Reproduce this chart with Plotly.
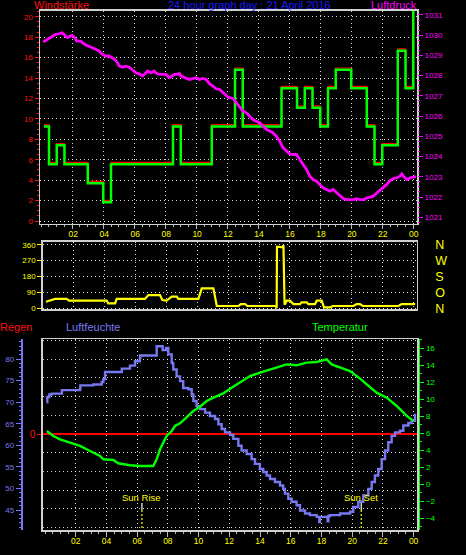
import plotly.graph_objects as go

# ---------------- DATA ----------------
# wind speed (km/h), half-hour samples, step plot
wind_time = [0.17, 0.5, 1.0, 1.5, 3.0, 4.0, 4.5, 8.5, 9.0, 11.0, 12.5, 13.0, 15.5, 16.5,
             17.0, 17.5, 18.0, 18.5, 19.0, 20.0, 21.0, 21.5, 22.0, 23.0, 23.5, 24.0]
wind_gust = [9.26, 5.56, 7.41, 5.56, 3.70, 1.85, 5.56, 9.26, 5.56, 9.26, 14.8, 9.26, 13.0, 11.1,
             13.0, 11.1, 9.26, 13.0, 14.8, 13.0, 9.26, 5.56, 7.41, 16.67, 13.0, 22.2]
wind_avg = [9.26, 5.56, 7.41, 5.56, 3.70, 1.85, 5.56, 9.26, 5.56, 9.26, 14.8, 9.26, 13.0, 11.1,
            13.0, 11.1, 9.26, 13.0, 14.8, 13.0, 9.26, 5.56, 7.41, 16.67, 13.0, 22.2]

# air pressure (hPa)
press_time = [0.13, 0.39, 0.71, 0.93, 1.14, 1.36, 1.57, 1.68, 1.90, 2.00, 2.16, 2.29, 2.55, 2.65,
              2.87, 3.08, 3.30, 3.51, 3.73, 3.95, 4.16, 4.38, 4.60, 4.75, 4.92, 5.03, 5.24, 5.46,
              5.67, 5.89, 6.11, 6.32, 6.54, 6.75, 6.86, 7.08, 7.29, 7.40, 7.62, 7.83, 8.05, 8.26,
              8.48, 8.59, 8.80, 8.91, 9.02, 9.23, 9.55, 9.77, 9.99, 10.20, 10.42, 10.64, 10.85,
              11.07, 11.28, 11.50, 11.72, 11.93, 12.04, 12.36, 12.58, 12.79, 13.01, 13.23, 13.44,
              13.66, 13.87, 14.09, 14.31, 14.52, 14.73, 14.95, 15.17, 15.38, 15.60, 15.81, 16.03,
              16.25, 16.46, 16.68, 16.89, 17.11, 17.32, 17.54, 17.76, 17.97, 18.19, 18.40, 18.62,
              18.83, 19.05, 19.26, 19.48, 19.70, 19.91, 20.13, 20.34, 20.56, 20.78, 20.99, 21.21,
              21.42, 21.64, 21.85, 22.07, 22.28, 22.50, 22.72, 22.93, 23.15, 23.26, 23.36, 23.58,
              23.80, 24.01, 24.17]
pressure = [1029.66, 1029.79, 1029.91, 1030.04, 1030.07, 1030.12, 1029.96, 1029.88, 1029.96,
            1029.99, 1029.88, 1029.71, 1029.71, 1029.63, 1029.51, 1029.46, 1029.38, 1029.30,
            1029.22, 1029.05, 1028.97, 1028.97, 1028.89, 1028.80, 1028.64, 1028.47, 1028.42,
            1028.47, 1028.42, 1028.26, 1028.14, 1028.09, 1027.98, 1028.14, 1028.23, 1028.14,
            1028.23, 1028.13, 1028.06, 1028.06, 1028.06, 1027.90, 1027.98, 1028.06, 1028.06,
            1028.11, 1027.98, 1027.90, 1027.81, 1027.85, 1027.90, 1027.81, 1027.86, 1027.81,
            1027.60, 1027.48, 1027.35, 1027.32, 1027.15, 1026.99, 1026.94, 1026.87, 1026.66,
            1026.41, 1026.25, 1026.16, 1026.00, 1025.83, 1025.75, 1025.67, 1025.50, 1025.34,
            1025.26, 1025.17, 1025.01, 1024.76, 1024.43, 1024.27, 1024.13, 1024.10, 1024.10,
            1023.85, 1023.60, 1023.36, 1023.03, 1022.86, 1022.78, 1022.61, 1022.45, 1022.37,
            1022.29, 1022.37, 1022.20, 1022.04, 1021.92, 1021.87, 1021.87, 1021.87, 1021.92,
            1021.87, 1021.87, 1021.95, 1021.99, 1022.04, 1022.20, 1022.32, 1022.45, 1022.61,
            1022.81, 1022.91, 1022.95, 1023.03, 1023.14, 1023.03, 1022.86, 1022.95, 1022.98,
            1023.01]

# wind direction (degrees)
dir_time = [0.23, 0.49, 0.82, 1.57, 1.72, 4.15, 4.26, 4.70, 4.80, 6.63, 6.85, 7.60, 7.75, 8.03,
            8.36, 8.68, 8.79, 10.08, 10.30, 11.05, 11.27, 12.67, 12.82, 13.10, 13.25, 15.10,
            15.14, 15.16, 15.53, 15.58, 15.65, 15.79, 16.00, 16.22, 16.65, 16.76, 17.08, 17.19,
            17.62, 17.73, 18.05, 18.20, 18.59, 18.76, 20.10, 20.31, 20.53, 20.70, 23.00, 23.22,
            24.09]
wind_dir = [37, 43, 53, 53, 43, 43, 28, 28, 53, 53, 75, 75, 47, 43, 66, 66, 53, 53, 113, 113,
            13, 13, 24, 24, 13, 13, 0, 349, 345, 357, 20, 43, 43, 24, 24, 34, 34, 24, 24, 43, 43,
            5, 5, 13, 13, 24, 24, 13, 13, 24, 24]
dir_ticks = [0, 90, 180, 270, 360]
dir_letters = ["N", "O", "S", "W", "N"]

# humidity (%)
hum_time = [0.11, 0.15, 0.28, 0.43, 1.09, 1.10, 2.28, 2.30, 3.15, 3.69, 3.80, 3.91, 4.67, 5.00,
            5.53, 5.86, 6.18, 6.20, 7.16, 7.27, 7.60, 7.66, 7.88, 8.03, 8.25, 8.35, 8.57, 8.79,
            9.00, 9.33, 9.55, 9.66, 9.87, 10.09, 10.42, 10.74, 11.07, 11.29, 11.50, 11.72, 12.05,
            12.26, 12.59, 12.80, 13.13, 13.45, 13.67, 13.99, 14.21, 14.43, 14.65, 14.97, 15.30,
            15.51, 15.62, 15.84, 16.06, 16.38, 16.60, 16.93, 17.25, 17.69, 17.86, 17.90, 18.12,
            18.40, 18.45, 18.56, 19.21, 19.86, 20.07, 20.40, 20.72, 21.05, 21.27, 21.48, 21.70,
            21.92, 22.14, 22.35, 22.57, 22.79, 23.11, 23.33, 23.66, 23.88, 24.09]
humidity = [70.0, 71.2, 71.8, 72.0, 72.0, 72.8, 73.1, 73.9, 74.1, 74.7, 75.4, 77.0, 77.0, 77.8,
            78.5, 79.5, 80.3, 80.85, 80.85, 83.0, 83.0, 82.1, 82.6, 81.1, 79.1, 77.6, 76.0, 74.9,
            73.3, 73.0, 71.8, 70.3, 69.1, 68.4, 67.6, 66.8, 66.1, 64.9, 63.8, 63.0, 62.4, 61.5,
            59.9, 58.8, 58.0, 56.8, 55.7, 54.5, 53.8, 53.0, 52.2, 51.5, 50.7, 49.9, 48.8, 47.6,
            46.9, 46.1, 44.9, 44.2, 43.8, 43.4, 42.2, 43.4, 43.4, 42.4, 43.6, 43.8, 44.2, 44.6,
            45.7, 46.9, 48.4, 49.9, 51.5, 53.0, 54.5, 56.8, 58.8, 60.7, 62.2, 63.0, 63.4, 64.6,
            65.2, 65.7, 67.3]

# temperature (deg C)
temp_time = [0.12, 0.54, 0.98, 1.63, 2.28, 2.93, 3.58, 3.80, 4.45, 4.77, 5.53, 6.18, 7.05, 7.27,
             7.49, 7.70, 7.92, 8.25, 8.46, 8.79, 9.22, 9.66, 10.09, 10.53, 10.96, 11.61, 12.15,
             12.70, 13.35, 14.00, 14.65, 15.30, 15.73, 16.38, 17.03, 17.69, 18.12, 18.34, 18.66,
             19.21, 19.86, 20.51, 21.16, 21.59, 22.25, 22.90, 23.55, 23.99]
temperature = [6.27, 5.68, 5.29, 4.90, 4.51, 3.92, 3.33, 2.94, 2.86, 2.47, 2.24, 2.15, 2.15, 2.94,
               4.12, 4.90, 5.68, 6.27, 6.86, 7.18, 7.84, 8.62, 9.13, 9.80, 10.19, 10.70, 11.37,
               11.96, 12.74, 13.13, 13.53, 13.84, 14.11, 14.00, 14.31, 14.39, 14.62, 14.70, 14.11,
               13.72, 13.33, 12.43, 11.37, 10.78, 10.19, 9.21, 8.04, 7.45]

# rain (mm)
rain_time = [-0.2, 6.0, 12.0, 18.0, 24.3]
rain = [0, 0, 0, 0, 0]

# sun rise / sun set (hours)
sun_time = [6.31, 20.59]
sun_text = ["Sun Rise", "Sun Set"]

hour_vals = [2, 4, 6, 8, 10, 12, 14, 16, 18, 20, 22, 24]
hour_text = ["02", "04", "06", "08", "10", "12", "14", "16", "18", "20", "22", "00"]

# ---------------- LAYOUT HELPERS ----------------
W, H = 466, 555
def px(x):
    return x / W
def py(y):
    return 1 - y / H

FONT = "Liberation Sans"
FRAME = "#d0d0d0"
GRID = "rgba(255,255,255,0.85)"
GDASH = "1px,3px"
TICKGRAY = "#b8b8b8"
RED = "#ff1010"
MAG = "#ff00ff"
GREEN = "#00ff00"
YEL = "#ffff00"
LAV = "#7878f0"

TOP_DOM = [py(223.7), py(10.7)]
MID_DOM = [py(309.3), py(241.7)]
BOT_DOM = [py(530), py(339.3)]

fig = go.Figure()

# top panel (base axis trace is invisible, it only carries the wind axis)
fig.add_trace(go.Scatter(x=wind_time, y=wind_gust, xaxis="x", yaxis="y", mode="lines",
                         line=dict(color="rgba(0,0,0,0)", width=0), hoverinfo="skip"))
fig.add_trace(go.Scatter(x=wind_time, y=wind_avg, xaxis="x", yaxis="y2", mode="lines",
                         line=dict(color="#ff0000", width=1.2, shape="hv"), hoverinfo="skip"))
fig.add_trace(go.Scatter(x=wind_time, y=wind_gust, xaxis="x", yaxis="y3", mode="lines",
                         line=dict(color=GREEN, width=2.5, shape="hv"), hoverinfo="skip"))
fig.add_trace(go.Scatter(x=press_time, y=pressure, xaxis="x", yaxis="y4", mode="lines",
                         line=dict(color=MAG, width=2.8), hoverinfo="skip"))
# middle panel
fig.add_trace(go.Scatter(x=dir_time, y=wind_dir, xaxis="x2", yaxis="y5", mode="lines",
                         line=dict(color=YEL, width=2.2), hoverinfo="skip"))
fig.add_trace(go.Scatter(x=dir_time, y=wind_dir, xaxis="x2", yaxis="y6", mode="lines",
                         line=dict(color="rgba(0,0,0,0)", width=0), hoverinfo="skip"))
# bottom panel
fig.add_trace(go.Scatter(x=rain_time, y=rain, xaxis="x3", yaxis="y7", mode="lines",
                         line=dict(color="#ff0000", width=2), hoverinfo="skip"))
fig.add_trace(go.Scatter(x=hum_time, y=humidity, xaxis="x3", yaxis="y8", mode="lines",
                         line=dict(color=LAV, width=2.4, shape="hv"), hoverinfo="skip"))
fig.add_trace(go.Scatter(x=temp_time, y=temperature, xaxis="x3", yaxis="y9", mode="lines",
                         line=dict(color=GREEN, width=2.4), hoverinfo="skip"))

def tickfont(c, s=8):
    return dict(family=FONT, size=s, color=c)

common_x = dict(showline=True, mirror=True, linecolor=FRAME, linewidth=1.5, zeroline=False,
                showgrid=True, gridcolor=GRID, griddash=GDASH, gridwidth=1,
                tickmode="array", tickvals=hour_vals, ticktext=hour_text, fixedrange=True)

fig.update_layout(
    template="none",
    width=W, height=H, autosize=False,
    margin=dict(l=0, r=0, t=0, b=0),
    paper_bgcolor="black", plot_bgcolor="black",
    showlegend=False,
    # ---- top panel ----
    xaxis=dict(domain=[px(40), px(417)], range=[-0.08, 24.24], anchor="y",
               ticks="outside", ticklen=4, tickcolor=TICKGRAY, showticklabels=False,
               minor=dict(tickmode="linear", tick0=0, dtick=0.5, ticks="outside", ticklen=2,
                          tickcolor=TICKGRAY, showgrid=False),
               **common_x),
    yaxis=dict(domain=TOP_DOM, range=[-0.26, 20.59], anchor="x",
               tickmode="linear", tick0=0, dtick=2, ticks="outside", ticklen=4, tickcolor=RED,
               tickfont=tickfont(RED), showline=True, mirror=True, linecolor=FRAME, linewidth=1.5,
               showgrid=True, gridcolor=GRID, griddash=GDASH, zeroline=False,
               minor=dict(tickmode="linear", tick0=0, dtick=0.5, ticks="outside", ticklen=2,
                          tickcolor=RED, showgrid=False)),
    yaxis2=dict(overlaying="y", anchor="x", domain=TOP_DOM, range=[-0.44, 20.41], visible=False),
    yaxis3=dict(overlaying="y", anchor="x", domain=TOP_DOM, range=[-0.26, 20.59], visible=False),
    yaxis4=dict(overlaying="y", anchor="x", domain=TOP_DOM, side="right", range=[1020.68, 1031.21],
                tickmode="linear", tick0=1021, dtick=1, ticks="outside", ticklen=5,
                tickcolor=MAG, tickfont=tickfont(MAG), showgrid=False, zeroline=False,
                showline=False,
                minor=dict(tickmode="linear", tick0=1021, dtick=0.25, ticks="outside",
                           ticklen=2, tickcolor=MAG, showgrid=False)),
    # ---- middle panel ----
    xaxis2=dict(domain=[px(42.7), px(416.7)], range=[0.02, 24.19], anchor="y5", side="top",
                ticks="", tickfont=tickfont(YEL, 8.5), **common_x),
    yaxis5=dict(domain=MID_DOM, range=[-5.7, 377], anchor="x2",
                tickmode="array", tickvals=dir_ticks, ticks="outside", ticklen=4, tickcolor=YEL,
                tickfont=tickfont(YEL), showline=True, mirror=True, linecolor=FRAME,
                linewidth=1.5, showgrid=True, gridcolor=GRID, griddash=GDASH, zeroline=False),
    yaxis6=dict(overlaying="y5", anchor="x2", domain=MID_DOM, side="right", range=[-5.7, 377],
                tickmode="array", tickvals=dir_ticks, ticktext=dir_letters, ticks="outside",
                ticklen=15, tickcolor="rgba(0,0,0,0)", tickfont=tickfont(YEL, 12.5),
                showgrid=False, zeroline=False, showline=False),
    # ---- bottom panel ----
    xaxis3=dict(domain=[px(42.7), px(417.3)], range=[-0.15, 24.24], anchor="y7",
                ticks="outside", ticklen=5, tickcolor=TICKGRAY, tickfont=tickfont(YEL, 8.5),
                ticklabelstandoff=-3,
                minor=dict(tickmode="linear", tick0=0, dtick=0.5, ticks="outside", ticklen=2,
                           tickcolor=TICKGRAY, showgrid=False),
                **common_x),
    yaxis7=dict(domain=BOT_DOM, range=[-5.142, 5.072], anchor="x3",
                tickmode="array", tickvals=[0], ticktext=["0"], ticks="outside", ticklen=4,
                tickcolor=RED, tickfont=tickfont(RED, 10), showline=True, mirror=True,
                linecolor=FRAME, linewidth=1.5, showgrid=False, zeroline=False,
                minor=dict(tickmode="linear", tick0=0, dtick=1, ticks="", showgrid=True,
                           gridcolor=GRID, griddash=GDASH, gridwidth=1)),
    yaxis8=dict(overlaying="y7", anchor="free", domain=BOT_DOM, position=px(21.7), side="left",
                range=[40.36, 84.6], tickmode="linear", tick0=45, dtick=5, ticks="outside",
                ticklen=5, tickcolor=LAV, tickfont=tickfont(LAV), showline=True,
                linecolor=LAV, linewidth=2, showgrid=False, zeroline=False,
                minor=dict(tickmode="linear", tick0=45, dtick=1, ticks="outside", ticklen=2,
                           tickcolor=LAV, showgrid=False)),
    yaxis9=dict(overlaying="y7", anchor="free", domain=BOT_DOM, position=px(419.3), side="right",
                range=[-5.38, 17.06], tickmode="linear", tick0=0, dtick=2, ticks="outside",
                ticklen=4, tickcolor=GREEN, tickfont=tickfont(GREEN), showline=True,
                linecolor=GREEN, linewidth=1, showgrid=False, zeroline=False,
                minor=dict(tickmode="linear", tick0=0, dtick=1, ticks="outside", ticklen=2,
                           tickcolor=GREEN, showgrid=False)),
)

def label(text, x, y, color, size=11):
    fig.add_annotation(text=text, x=px(x), y=py(y), xref="paper", yref="paper",
                       showarrow=False, xanchor="center", yanchor="middle",
                       font=dict(family=FONT, size=size, color=color))

label("Windstärke", 61, 5, RED)
label("24 hour graph day : 21 April 2016", 250, 5, "#1a1aff")
label("Luftdruck", 394, 5, MAG)
label("Regen", 16, 327, RED)
label("Luftfeuchte", 93, 327, LAV)
label("Temperatur", 340, 327, GREEN)

for t, txt in zip(sun_time, sun_text):
    fig.add_annotation(text=txt, x=t, xref="x3", y=py(497.5), yref="paper", showarrow=False,
                       xanchor="center", yanchor="middle",
                       font=dict(family=FONT, size=9.5, color=YEL))
    fig.add_shape(type="line", xref="x3", yref="paper", x0=t, x1=t, y0=py(503), y1=py(510),
                  line=dict(color="white", width=1.2))
    fig.add_shape(type="line", xref="x3", yref="paper", x0=t, x1=t, y0=py(510), y1=py(529),
                  line=dict(color=YEL, width=1.2, dash="2px,2px"))

fig.write_html("out.html", config=dict(displayModeBar=False, staticPlot=True),
               post_script="document.body.style.margin='0';document.body.style.padding='0';"
                           "document.body.style.background='black';")
